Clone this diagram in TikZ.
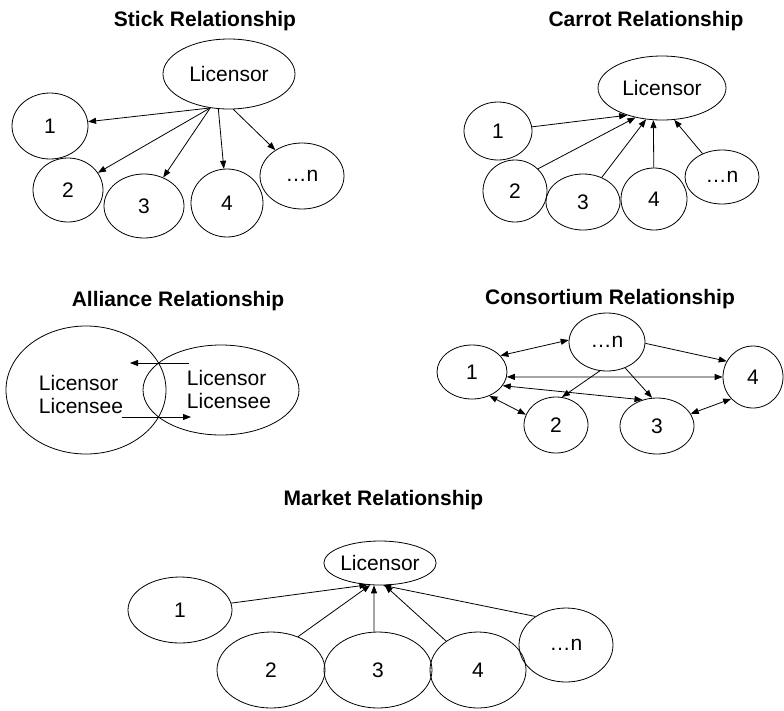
\documentclass[tikz,border=0pt]{standalone}
\usepackage{fontspec}
\setmainfont{Liberation Sans}
\usetikzlibrary{shapes.geometric,arrows.meta}

\begin{document}
\begin{tikzpicture}[x=1pt,y=-1pt,
  txt/.style={font=\fontsize{21}{23}\selectfont},
  ttl/.style={font=\fontsize{21}{25}\selectfont\bfseries, anchor=base, inner sep=0pt},
  ov/.style={txt, draw, ellipse, line width=0.8pt, inner sep=0pt},
  tip/.style={Triangle[length=8pt,width=6pt]},
  arr/.style={-{Triangle[length=8pt,width=6pt]}, line width=0.8pt},
  darr/.style={{Triangle[length=8pt,width=6pt]}-{Triangle[length=8pt,width=6pt]}, line width=0.8pt}]
\useasboundingbox (0,0) rectangle (784,710);

% ---- Stick relationship: licensor pushes to licensees
\node[ttl] (s-title) at (205,26.5) {Stick Relationship};
\node[ov, minimum width=132pt, minimum height=70pt] (s-lic) at (229,74) {Licensor};
\node[ov, minimum width=76pt, minimum height=66pt] (s-1) at (50,126) {1};
\node[ov, minimum width=70pt, minimum height=64pt] (s-2) at (68,190) {2};
\node[ov, minimum width=80pt, minimum height=64pt] (s-3) at (144,206) {3};
\node[ov, minimum width=72pt, minimum height=68pt] (s-4) at (227,203) {4};
\node[ov, minimum width=84pt, minimum height=66pt] (s-n) at (302,176) {…n};
\draw[arr] (s-lic.241) -- (s-1);
\draw[arr] (s-lic.241) -- (s-2);
\draw[arr] (s-lic.241) -- (s-3);
\draw[arr] (s-lic.253) -- (s-4);
\draw[arr] (s-lic.277) -- (s-n);

% ---- Carrot relationship: licensees pulled to licensor
\node[ttl] (c-title) at (646,26.5) {Carrot Relationship};
\node[ov, minimum width=128pt, minimum height=64pt] (c-lic) at (662,88) {Licensor};
\node[ov, minimum width=68pt, minimum height=58pt] (c-1) at (498,131) {1};
\node[ov, minimum width=64pt, minimum height=62pt] (c-2) at (515,191) {2};
\node[ov, minimum width=74pt, minimum height=56pt] (c-3) at (583,202) {3};
\node[ov, minimum width=66pt, minimum height=62pt] (c-4) at (654,199) {4};
\node[ov, minimum width=74pt, minimum height=54pt] (c-n) at (722,177) {…n};
\draw[arr] (c-1) -- (c-lic.218);
\draw[arr] (c-2.44) -- (c-lic.228);
\draw[arr] (c-3) -- (c-lic.243);
\draw[arr] (c-4) -- (c-lic.255);
\draw[arr] (c-n) -- (c-lic.291);

% ---- Alliance relationship: two overlapping partners
\node[ttl] (a-title) at (178,306) {Alliance Relationship};
\node[ov, minimum width=160pt, minimum height=128pt] (a-l) at (86,390) {};
\node[ov, minimum width=156pt, minimum height=90pt] (a-r) at (221,390) {};
\node[txt, align=left, inner sep=0pt] (a-ltxt) at (81,394) {Licensor\\Licensee};
\node[txt, align=left, inner sep=0pt] (a-rtxt) at (229,389) {Licensor\\Licensee};
\coordinate (a-t1) at (189,363);
\coordinate (a-t2) at (130,363);
\coordinate (a-b1) at (122,417);
\coordinate (a-b2) at (191,417);
\draw[arr] (a-t1) -- (a-t2);
\draw[arr] (a-b1) -- (a-b2);

% ---- Consortium relationship: mutual links
\node[ttl] (k-title) at (610,304) {Consortium Relationship};
\node[ov, minimum width=76pt, minimum height=58pt] (k-n) at (607,342) {…n};
\node[ov, minimum width=70pt, minimum height=54pt] (k-1) at (472,372) {1};
\node[ov, minimum width=60pt, minimum height=62pt] (k-4) at (753,377) {4};
\node[ov, minimum width=64pt, minimum height=56pt] (k-2) at (556,425) {2};
\node[ov, minimum width=74pt, minimum height=56pt] (k-3) at (657,426) {3};
\draw[darr] (k-1.30) -- (k-n.177);
\draw[arr] (k-n.358) -- (k-4.149);
\draw[darr] (k-1.352) -- (k-4.180);
\draw[darr] (k-1.336) -- (k-3.119);
\draw[darr] (k-1.306) -- (k-2.161);
\draw[arr] (k-n.256) -- (k-2.78);
\draw[arr] (k-n.305) -- (k-3.100);
\draw[darr] (k-3.20) -- (k-4.225);

% ---- Market relationship
\node[ttl] (m-title) at (383.5,505) {Market Relationship};
\node[ov, minimum width=94pt, minimum height=44pt] (m-lic) at (380,563) {Licensor};
\node[ov, minimum width=104pt, minimum height=66pt] (m-1) at (180,610) {1};
\node[ov, minimum width=108pt, minimum height=76pt] (m-2) at (271,670) {2};
\node[ov, minimum width=108pt, minimum height=76pt] (m-3) at (378,670) {3};
\node[ov, minimum width=96pt, minimum height=76pt] (m-4) at (478,670) {4};
\node[ov, minimum width=94pt, minimum height=74pt] (m-n) at (566,645) {…n};
\draw[arr] (m-1) -- (m-lic.240);
\draw[arr] (m-2.51) -- (m-lic.246);
\draw[arr] (m-3.96) -- (m-lic.255);
\draw[arr] (m-4) -- (m-lic.282);
\draw[arr] (m-n.137) -- (m-lic.278);
\end{tikzpicture}
\end{document}
